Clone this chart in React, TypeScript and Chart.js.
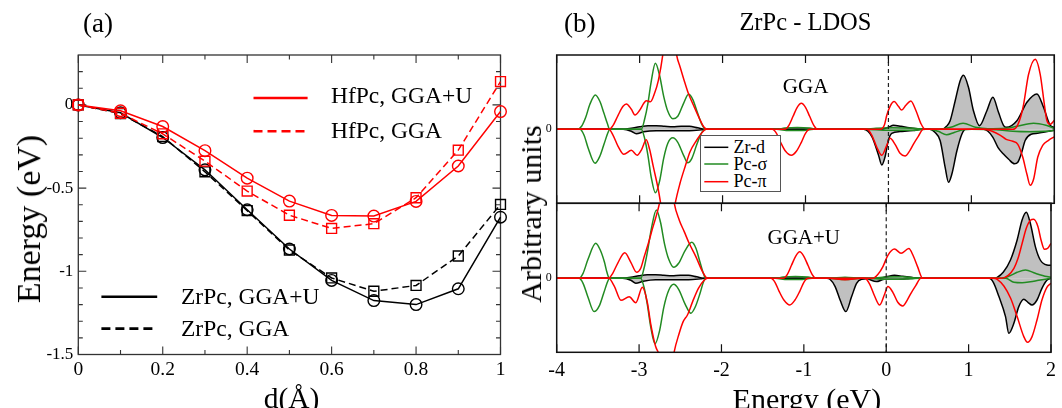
import React, { useEffect, useRef } from "react";
import { Chart, registerables } from "chart.js";
Chart.register(...registerables);

const SERIF = "'Liberation Serif', 'Times New Roman', Times, serif";
const RED = "#ff0000";
const GREEN = "#228b22";
const BLACK = "#000000";
const GRAY = "#c0c0c0";

// ---------- Panel (a) data ----------
const dA = [0, 0.1, 0.2, 0.3, 0.4, 0.5, 0.6, 0.7, 0.8, 0.9, 1.0];
const hfPcGGAU = [0, -0.035, -0.13, -0.275, -0.44, -0.578, -0.664, -0.668, -0.58, -0.367, -0.04];
const hfPcGGA = [0, -0.05, -0.174, -0.338, -0.518, -0.663, -0.742, -0.714, -0.558, -0.272, 0.14];
const zrPcGGAU = [0, -0.047, -0.196, -0.39, -0.63, -0.866, -1.055, -1.176, -1.2, -1.105, -0.675];
const zrPcGGA = [0, -0.052, -0.19, -0.402, -0.635, -0.872, -1.04, -1.12, -1.085, -0.908, -0.598];
const xTicksA = [0, 0.2, 0.4, 0.6, 0.8, 1];
const xMinorA = [0.1, 0.3, 0.5, 0.7, 0.9];
const yTicksA = [0, -0.5, -1, -1.5];
const yMinorA = [0.2, 0.1, -0.1, -0.2, -0.3, -0.4, -0.6, -0.7, -0.8, -0.9, -1.1, -1.2, -1.3, -1.4];

// ---------- Panel (b) data : [energy eV, LDOS arb. units] ----------
type P = [number, number];
const xTicksB = [-4, -3, -2, -1, 0, 1, 2];

// GGA (top)
const zrdUpGGA: P[] = [[-4,0],[-3.2,0],[-3.1,0.1],[-3.0,0.25],[-2.9,0.35],[-2.8,0.35],[-2.7,0.3],[-2.6,0.25],[-2.5,0.3],[-2.4,0.3],[-2.3,0.15],[-2.2,0],
  [-0.1,0],[0,0.2],[0.06,0.4],[0.15,0.3],[0.25,0.15],[0.35,0.05],[0.42,0],
  [0.65,0],[0.7,0.3],[0.744,0.86],[0.805,2.86],[0.865,4.86],[0.905,5.4],[0.965,4.2],[1.025,1.86],[1.098,0.36],[1.187,1.86],[1.259,3.2],[1.327,1.7],[1.387,0.4],[1.42,0.2],[1.549,0.86],[1.67,2.7],[1.79,3.53],[1.87,2.2],[1.95,0.4],[2.0,0.2]];
const zrdDnGGA: P[] = [[-4,0],[-3.2,0],[-3.1,-0.2],[-3.04,-0.45],[-2.95,-0.25],[-2.8,-0.15],[-2.6,-0.15],[-2.4,-0.15],[-2.25,-0.05],[-2.2,0],
  [-0.3,0],[-0.2,-0.73],[-0.12,-2.57],[-0.08,-3.57],[-0.04,-2.73],[0,-1.07],[0.04,-0.4],[0.14,-0.23],[0.3,-0.13],[0.4,0],
  [0.5,0],[0.56,-0.3],[0.624,-1.14],[0.684,-3.8],[0.724,-5.3],[0.764,-4.5],[0.825,-2.17],[0.885,-0.5],[0.93,0],
  [1.15,0],[1.2,-0.2],[1.26,-0.8],[1.32,-1.8],[1.39,-2.5],[1.45,-3.0],[1.52,-3.45],[1.56,-3.3],[1.6,-2.5],[1.65,-1.1],[1.72,-0.5],[1.8,-0.4],[1.9,-0.25],[2.0,-0.1]];
const pcsUpGGA: P[] = [[-4,0],[-3.75,0],[-3.70,0.3],[-3.65,1.2],[-3.60,2.5],[-3.534,3.43],[-3.48,2.8],[-3.43,1.6],[-3.39,0.6],[-3.36,0],
  [-2.98,0],[-2.94,1.0],[-2.9,2.6],[-2.86,4.8],[-2.81,6.6],[-2.76,5.4],[-2.71,3.3],[-2.66,1.8],[-2.6,1.05],[-2.54,1.3],[-2.47,2.6],[-2.41,3.5],[-2.36,3.0],[-2.3,1.6],[-2.25,0.5],[-2.2,0],
  [-1.35,0],[-1.25,0.12],[-1.1,0.18],[-0.95,0.12],[-0.85,0],
  [-0.3,0],[-0.15,0.1],[0.05,0.15],[0.3,0.1],[0.45,0],
  [0.6,0],[0.75,0.2],[0.9,0.6],[1.05,0.2],[1.2,0.05],[1.4,0.1],[1.55,0.3],[1.75,0.6],[1.9,0.4],[2.0,0.1]];
const pcsDnGGA: P[] = [[-4,0],[-3.72,0],[-3.67,-0.6],[-3.62,-1.9],[-3.538,-3.4],[-3.48,-2.7],[-3.43,-1.5],[-3.38,-0.3],[-3.36,0],
  [-2.98,0],[-2.94,-0.9],[-2.9,-2.6],[-2.86,-4.8],[-2.81,-6.35],[-2.76,-5.2],[-2.71,-2.9],[-2.66,-1.4],[-2.6,-0.85],[-2.54,-1.3],[-2.47,-2.6],[-2.42,-3.35],[-2.37,-2.9],[-2.31,-1.5],[-2.25,-0.3],[-2.2,0],
  [-1.35,0],[-1.2,-0.12],[-1.05,-0.12],[-0.9,0],
  [-0.3,0],[0.0,-0.1],[0.3,-0.1],[0.45,0],
  [0.5,0],[0.6,-0.2],[0.7,-0.55],[0.8,-0.3],[0.9,-0.05],[1.0,0],[1.3,-0.05],[1.5,-0.2],[1.7,-0.25],[1.9,-0.2],[2.0,-0.1]];
const pcpUpGGA: P[] = [[-4,0],[-3.37,0],[-3.32,0.4],[-3.26,1.4],[-3.2,2.3],[-3.16,2.53],[-3.1,2.0],[-3.056,1.43],[-3.0,1.9],[-2.95,2.6],[-2.92,2.85],[-2.87,2.75],[-2.82,3.6],[-2.774,4.9],[-2.72,7.5],[-2.68,10.5],[-2.64,12],[-2.6,10.5],[-2.553,7.4],[-2.513,6.26],[-2.465,4.93],[-2.413,3.6],[-2.352,2.43],[-2.28,1.1],[-2.223,0.2],[-2.18,0],
  [-1.25,0],[-1.2,0.4],[-1.15,1.3],[-1.1,2.2],[-1.05,2.6],[-1.0,2.2],[-0.95,1.3],[-0.9,0.4],[-0.85,0],
  [-0.1,0],[-0.05,0.4],[-0.02,1.4],[0.02,2.3],[0.069,2.77],[0.12,2.3],[0.16,1.93],[0.21,2.4],[0.27,2.83],[0.33,1.9],[0.39,0.6],[0.443,0],
  [1.5,0],[1.55,0.3],[1.6,1.4],[1.63,2.5],[1.69,5.5],[1.77,7.0],[1.83,5.5],[1.88,2.5],[1.91,0.9],[1.95,0.5],[2.0,0.9]];
const pcpDnGGA: P[] = [[-4,0],[-3.37,0],[-3.32,-0.6],[-3.26,-1.7],[-3.19,-2.5],[-3.1,-2.1],[-3.03,-2.6],[-2.975,-2.0],[-2.92,-1.05],[-2.88,-2.0],[-2.835,-3.74],[-2.774,-6.07],[-2.745,-7.5],[-2.7,-10],[-2.66,-11],[-2.62,-10],[-2.573,-7.5],[-2.513,-5.4],[-2.452,-3.74],[-2.392,-2.24],[-2.311,-1.07],[-2.239,-0.24],[-2.2,0],
  [-1.4,0],[-1.35,-0.4],[-1.3,-1.3],[-1.24,-2.2],[-1.17,-2.6],[-1.11,-2.2],[-1.05,-1.3],[-1.0,-0.4],[-0.95,0],
  [-0.26,0],[-0.2,-0.6],[-0.14,-1.8],[-0.08,-2.6],[-0.02,-1.6],[0.02,-0.9],[0.08,-1.5],[0.14,-2.4],[0.2,-2.67],[0.26,-2.1],[0.3,-1.5],[0.36,-0.7],[0.42,0],
  [1.15,0],[1.25,-0.2],[1.35,-0.6],[1.42,-1.0],[1.5,-1.2],[1.56,-1.5],[1.62,-2.8],[1.67,-4.5],[1.71,-5.6],[1.75,-5.0],[1.8,-2.8],[1.86,-1.6],[1.93,-1.1],[2.0,-0.75]];

// GGA+U (bottom)
const zrdUpU: P[] = [[-4,0],[-3.2,0],[-3.1,0.1],[-3.0,0.25],[-2.9,0.35],[-2.8,0.35],[-2.7,0.3],[-2.6,0.25],[-2.5,0.3],[-2.4,0.3],[-2.3,0.15],[-2.2,0],
  [-0.1,0],[0.0,0.15],[0.1,0.3],[0.2,0.2],[0.3,0.1],[0.4,0],
  [1.3,0],[1.347,0.1],[1.42,0.6],[1.508,1.83],[1.589,3.83],[1.649,5.83],[1.7,6.6],[1.749,5.5],[1.81,3.17],[1.87,1.83],[1.95,1.33],[2.0,1.3]];
const zrdDnU: P[] = [[-4,0],[-3.2,0],[-3.1,-0.2],[-3.04,-0.5],[-2.95,-0.3],[-2.8,-0.15],[-2.6,-0.15],[-2.4,-0.15],[-2.25,-0.05],[-2.2,0],
  [-0.72,0],[-0.683,-0.1],[-0.62,-0.83],[-0.56,-2.17],[-0.49,-3.33],[-0.42,-1.83],[-0.36,-0.5],[-0.3,-0.1],[-0.24,-0.05],[-0.12,-0.33],[-0.02,-0.1],[0.1,-0.1],[0.25,-0.05],[0.35,0],
  [1.25,0],[1.3,-0.4],[1.368,-1.83],[1.448,-3.83],[1.488,-5.5],[1.549,-4.5],[1.609,-2.83],[1.67,-2.1],[1.72,-2.4],[1.77,-2.67],[1.83,-2.17],[1.89,-1.0],[1.95,-0.2],[2.0,0]];
const pcsUpU: P[] = [[-4,0],[-3.73,0],[-3.68,0.5],[-3.62,1.9],[-3.526,3.5],[-3.47,2.8],[-3.42,1.6],[-3.39,0.6],[-3.36,0],
  [-2.98,0],[-2.94,1.0],[-2.9,2.6],[-2.85,5.0],[-2.79,6.83],[-2.74,5.6],[-2.69,3.4],[-2.64,1.9],[-2.58,1.1],[-2.52,1.5],[-2.44,2.8],[-2.36,3.6],[-2.31,3.0],[-2.26,1.6],[-2.22,0.5],[-2.19,0],
  [-1.35,0],[-1.25,0.12],[-1.1,0.18],[-0.95,0.12],[-0.85,0],
  [-0.7,0],[-0.5,0.1],[-0.3,0],
  [-0.25,0],[0,0.12],[0.2,0.15],[0.4,0],
  [1.4,0],[1.5,0.25],[1.589,0.6],[1.69,0.83],[1.81,0.5],[1.95,0.17],[2.0,0.1]];
const pcsDnU: P[] = [[-4,0],[-3.73,0],[-3.68,-0.5],[-3.62,-1.9],[-3.546,-3.33],[-3.48,-2.7],[-3.43,-1.5],[-3.38,-0.3],[-3.36,0],
  [-2.98,0],[-2.94,-0.9],[-2.9,-2.6],[-2.86,-4.8],[-2.806,-6.55],[-2.75,-5.2],[-2.7,-2.9],[-2.64,-1.2],[-2.58,-0.6],[-2.52,-1.1],[-2.44,-2.6],[-2.372,-3.5],[-2.32,-2.9],[-2.26,-1.5],[-2.22,-0.4],[-2.19,0],
  [-1.35,0],[-1.2,-0.12],[-1.05,-0.12],[-0.9,0],
  [-0.7,0],[-0.5,-0.12],[-0.3,0],
  [-0.25,0],[0,-0.1],[0.3,-0.05],[0.4,0],
  [1.45,0],[1.55,-0.4],[1.65,-0.45],[1.75,-0.35],[1.85,-0.2],[2.0,0]];
const pcpUpU: P[] = [[-4,0],[-3.37,0],[-3.32,0.5],[-3.26,1.5],[-3.174,2.55],[-3.1,1.6],[-3.03,0.6],[-2.98,1.0],[-2.94,2.1],[-2.88,3.7],[-2.84,4.9],[-2.8,6.0],[-2.75,7.6],[-2.7,10],[-2.65,11.5],[-2.61,10],[-2.575,7.6],[-2.513,5.83],[-2.452,4.67],[-2.392,3.5],[-2.311,2.17],[-2.23,0.67],[-2.17,0],
  [-1.25,0],[-1.2,0.4],[-1.15,1.3],[-1.1,2.2],[-1.05,2.65],[-1.0,2.2],[-0.95,1.3],[-0.9,0.4],[-0.85,0],
  [-0.16,0],[-0.1,0.4],[-0.04,1.17],[0.02,2.3],[0.1,2.93],[0.18,2.5],[0.274,2.97],[0.33,2.2],[0.38,1.17],[0.443,0],
  [1.4,0],[1.48,0.3],[1.55,1.0],[1.6,2.0],[1.65,3.5],[1.7,5.0],[1.75,5.8],[1.79,5.9],[1.84,5.2],[1.88,3.8],[1.92,2.9],[1.96,3.0],[2.0,3.5]];
const pcpDnU: P[] = [[-4,0],[-3.37,0],[-3.3,-0.8],[-3.22,-2.2],[-3.12,-1.85],[-3.04,-2.45],[-2.96,-0.9],[-2.9,-2.4],[-2.86,-4.5],[-2.8,-6.8],[-2.76,-7.6],[-2.7,-10],[-2.66,-11],[-2.62,-10],[-2.58,-7.6],[-2.513,-5.5],[-2.465,-4.33],[-2.413,-3.67],[-2.35,-2.33],[-2.28,-1.0],[-2.21,-0.2],[-2.17,0],
  [-1.4,0],[-1.35,-0.4],[-1.3,-1.3],[-1.24,-2.2],[-1.17,-2.67],[-1.11,-2.2],[-1.05,-1.3],[-1.0,-0.4],[-0.95,0],
  [-0.7,0],[-0.5,-0.15],[-0.3,0],
  [-0.26,0],[-0.2,-0.6],[-0.14,-1.8],[-0.08,-2.67],[-0.02,-1.6],[0.02,-0.83],[0.08,-1.4],[0.14,-2.4],[0.2,-2.77],[0.26,-2.1],[0.3,-1.5],[0.36,-0.7],[0.42,0],
  [1.3,0],[1.347,-0.1],[1.43,-0.8],[1.51,-2.0],[1.589,-3.83],[1.67,-5.83],[1.715,-6.4],[1.77,-5.83],[1.83,-4.17],[1.89,-2.17],[1.95,-0.9],[2.0,-0.5]];

// ---------- plugin: frame + inward ticks (+ optional dashed E=0 line) ----------
const framePlugin = {
  id: "frameTicks",
  beforeDatasetsDraw(chart: any, _a: any, o: any) {
    if (o.under) draw(chart, o);
  },
  afterDatasetsDraw(chart: any, _a: any, o: any) {
    if (!o.under) draw(chart, o);
  },
};
function draw(chart: any, o: any) {
  const { ctx, chartArea: a, scales } = chart;
  const xs = scales.x, ys = scales.y;
  ctx.save();
  if (o.zeroDash) {
    const px = xs.getPixelForValue(0);
    ctx.strokeStyle = "#222";
    ctx.lineWidth = 1.2;
    ctx.setLineDash([4, 3]);
    ctx.beginPath();
    ctx.moveTo(px, a.top);
    ctx.lineTo(px, a.bottom);
    ctx.stroke();
    ctx.setLineDash([]);
  }
  ctx.strokeStyle = o.color;
  ctx.lineWidth = o.width;
  ctx.strokeRect(a.left, a.top, a.right - a.left, a.bottom - a.top);
  ctx.lineWidth = o.tickWidth;
  const xt = (vals: number[], len: number) => {
    for (const v of vals) {
      const px = xs.getPixelForValue(v);
      ctx.beginPath();
      ctx.moveTo(px, a.bottom); ctx.lineTo(px, a.bottom - len);
      ctx.moveTo(px, a.top); ctx.lineTo(px, a.top + len);
      ctx.stroke();
    }
  };
  const yt = (vals: number[], len: number) => {
    for (const v of vals) {
      const py = ys.getPixelForValue(v);
      ctx.beginPath();
      ctx.moveTo(a.left, py); ctx.lineTo(a.left + len, py);
      ctx.moveTo(a.right, py); ctx.lineTo(a.right - len, py);
      ctx.stroke();
    }
  };
  xt(o.xMajor || [], o.majorLen);
  xt(o.xMinor || [], o.minorLen);
  yt(o.yMajor || [], o.majorLen);
  yt(o.yMinor || [], o.minorLen);
  ctx.restore();
}

const W = 1062, H = 408;

function energySet(label: string, y: number[], color: string, dashed: boolean, circle: boolean) {
  return {
    label,
    data: dA.map((x, i) => ({ x, y: y[i] })),
    borderColor: color,
    borderWidth: 1.5,
    borderDash: dashed ? [7, 4] : [],
    pointStyle: circle ? "circle" : "rect",
    pointRadius: circle ? 5.8 : 7,
    pointBorderColor: color,
    pointBorderWidth: 1.4,
    pointBackgroundColor: "rgba(0,0,0,0)",
    tension: 0,
    clip: false,
  };
}

function dosSet(pts: P[], color: string, width: number, fill: boolean) {
  return {
    data: pts.map(([x, y]) => ({ x, y })),
    borderColor: color,
    borderWidth: width,
    pointRadius: 0,
    cubicInterpolationMode: "monotone",
    fill: fill ? "origin" : false,
    backgroundColor: fill ? GRAY : "rgba(0,0,0,0)",
  };
}

function dosChart(canvas: HTMLCanvasElement, sets: any[], yMin: number, yMax: number, top: number, bottom: number, showX: boolean) {
  return new Chart(canvas, {
    type: "line",
    data: { datasets: sets },
    options: {
      responsive: false,
      animation: false,
      events: [],
      layout: { padding: { left: 556.7 - 20, right: W - 1054.3, top, bottom: showX ? 0 : H - bottom } },
      plugins: {
        legend: { display: false },
        tooltip: { enabled: false },
        frameTicks: { color: "#111", width: 1.5, tickWidth: 1.2, xMajor: xTicksB, majorLen: 8, minorLen: 4, zeroDash: true },
      } as any,
      scales: {
        x: {
          type: "linear", min: -4, max: 2, display: showX,
          grid: { display: false, drawTicks: false }, border: { display: false },
          afterBuildTicks: (s: any) => { s.ticks = xTicksB.map((v) => ({ value: v })); },
          afterFit: (s: any) => { s.height = showX ? H - bottom : 0; },
          ticks: { font: { family: SERIF, size: 20 }, color: "#000", padding: 6, maxRotation: 0, autoSkip: false, callback: (v: any) => String(v) },
        },
        y: {
          type: "linear", min: yMin, max: yMax,
          grid: { display: false, drawTicks: false }, border: { display: false },
          afterBuildTicks: (s: any) => { s.ticks = [{ value: 0 }]; },
          afterFit: (s: any) => { s.width = 20; },
          ticks: { font: { family: SERIF, size: 12 }, color: "#000", padding: 5, callback: (v: any) => String(v) },
        },
      },
    } as any,
    plugins: [framePlugin as any],
  });
}

const txt = (x: number, baseline: number, size: number): React.CSSProperties => ({
  position: "absolute", left: x, top: baseline - 0.8375 * size, fontSize: size, lineHeight: 1,
  fontFamily: SERIF, whiteSpace: "nowrap", color: "#000",
});
const rot = (cx: number, cy: number, size: number): React.CSSProperties => ({
  position: "absolute", left: cx, top: cy, fontSize: size, lineHeight: 1, fontFamily: SERIF,
  whiteSpace: "nowrap", color: "#000", transform: "translate(-50%,-50%) rotate(-90deg)",
});

export default function App() {
  const refA = useRef<HTMLCanvasElement>(null);
  const refB1 = useRef<HTMLCanvasElement>(null);
  const refB2 = useRef<HTMLCanvasElement>(null);

  useEffect(() => {
    document.body.style.margin = "0";
    const charts: Chart[] = [];
    charts.push(new Chart(refA.current!, {
      type: "line",
      data: {
        datasets: [
          energySet("HfPc, GGA+U", hfPcGGAU, RED, false, true),
          energySet("HfPc, GGA", hfPcGGA, RED, true, false),
          energySet("ZrPc, GGA+U", zrPcGGAU, BLACK, false, true),
          energySet("ZrPc, GGA", zrPcGGA, BLACK, true, false),
        ],
      },
      options: {
        responsive: false,
        animation: false,
        events: [],
        layout: { padding: { left: 0, top: 55, right: W - 500.5, bottom: 0 } },
        plugins: {
          legend: { display: false },
          tooltip: { enabled: false },
          frameTicks: { under: true, color: "#333", width: 1.3, tickWidth: 1.1, xMajor: xTicksA, xMinor: xMinorA, yMajor: yTicksA, yMinor: yMinorA, majorLen: 8, minorLen: 4.5 },
        } as any,
        scales: {
          x: {
            type: "linear", min: 0, max: 1,
            grid: { display: false, drawTicks: false }, border: { display: false },
            afterBuildTicks: (s: any) => { s.ticks = xTicksA.map((v) => ({ value: v })); },
            afterFit: (s: any) => { s.height = H - 354.5; },
            ticks: { font: { family: SERIF, size: 19.5 }, color: "#000", padding: 4, maxRotation: 0, autoSkip: false, callback: (v: any) => String(v) },
          },
          y: {
            type: "linear", min: -1.5, max: 0.3,
            grid: { display: false, drawTicks: false }, border: { display: false },
            afterBuildTicks: (s: any) => { s.ticks = yTicksA.map((v) => ({ value: v })); },
            afterFit: (s: any) => { s.width = 78.3; },
            ticks: { font: { family: SERIF, size: 17 }, color: "#000", padding: 5, callback: (v: any) => String(v) },
          },
        },
      } as any,
      plugins: [framePlugin as any],
    }));

    const setsGGA = [
      dosSet(pcpUpGGA, RED, 1.5, false), dosSet(pcpDnGGA, RED, 1.5, false),
      dosSet(pcsUpGGA, GREEN, 1.5, false), dosSet(pcsDnGGA, GREEN, 1.5, false),
      dosSet(zrdUpGGA, BLACK, 1.5, true), dosSet(zrdDnGGA, BLACK, 1.5, true),
    ];
    const setsU = [
      dosSet(pcpUpU, RED, 1.5, false), dosSet(pcpDnU, RED, 1.5, false),
      dosSet(pcsUpU, GREEN, 1.5, false), dosSet(pcsDnU, GREEN, 1.5, false),
      dosSet(zrdUpU, BLACK, 1.5, true), dosSet(zrdDnU, BLACK, 1.5, true),
    ];
    charts.push(dosChart(refB1.current!, setsGGA, -7.4, 7.43, 55, 203.3, false));
    charts.push(dosChart(refB2.current!, setsU, -7.4, 7.5, 203.3, 352.3, true));
    return () => charts.forEach((c) => c.destroy());
  }, []);

  const cv: React.CSSProperties = { position: "absolute", left: 0, top: 0, width: W, height: H };
  return (
    <div style={{ position: "relative", width: W, height: H, overflow: "hidden", background: "#fff" }}>
      <canvas ref={refA} width={W} height={H} style={cv} />
      <canvas ref={refB1} width={W} height={H} style={cv} />
      <canvas ref={refB2} width={W} height={H} style={cv} />

      {/* panel (a) texts */}
      <div style={txt(83, 33.1, 27)}>(a)</div>
      <div style={rot(29, 219, 34)}>Energy (eV)</div>
      <div style={txt(263.7, 409, 29.5)}>d(Å)</div>
      <div style={txt(331, 103.8, 23.5)}>HfPc, GGA+U</div>
      <div style={txt(331, 138.6, 23.5)}>HfPc, GGA</div>
      <div style={txt(181, 304.3, 23.5)}>ZrPc, GGA+U</div>
      <div style={txt(181, 336.4, 23.5)}>ZrPc, GGA</div>

      {/* panel (b) texts */}
      <div style={txt(564, 33.1, 27)}>(b)</div>
      <div style={txt(739.4, 30.5, 24.5)}>ZrPc - LDOS</div>
      <div style={rot(531, 214, 30)}>Arbitrary units</div>
      <div style={txt(732.6, 409, 30)}>Energy (eV)</div>
      <div style={txt(782.8, 93.3, 21)}>GGA</div>
      <div style={txt(767.5, 244.3, 21)}>GGA+U</div>

      {/* legend (b) box */}
      <div style={{ position: "absolute", left: 699.5, top: 135, width: 79, height: 55, border: "1px solid #555", background: "#fff" }} />
      <div style={txt(733.5, 153.5, 18)}>Zr-d</div>
      <div style={txt(733.5, 170.5, 18)}>Pc-σ</div>
      <div style={txt(733.5, 187.5, 18)}>Pc-π</div>

      <svg width={W} height={H} style={{ position: "absolute", left: 0, top: 0, pointerEvents: "none" }}>
        <line x1={253.5} x2={307.6} y1={98} y2={98} stroke={RED} strokeWidth={2.6} />
        <line x1={253.5} x2={307.6} y1={131.2} y2={131.2} stroke={RED} strokeWidth={2.6} strokeDasharray="9 5" />
        <line x1={101.4} x2={157.2} y1={296.8} y2={296.8} stroke={BLACK} strokeWidth={2.6} />
        <line x1={101.4} x2={157.2} y1={328.6} y2={328.6} stroke={BLACK} strokeWidth={2.6} strokeDasharray="9 5" />
        <line x1={704.3} x2={728.3} y1={147.3} y2={147.3} stroke={BLACK} strokeWidth={1.5} />
        <line x1={704.3} x2={728.3} y1={164} y2={164} stroke={GREEN} strokeWidth={1.5} />
        <line x1={704.3} x2={728.3} y1={181.7} y2={181.7} stroke={RED} strokeWidth={1.5} />
      </svg>
    </div>
  );
}
